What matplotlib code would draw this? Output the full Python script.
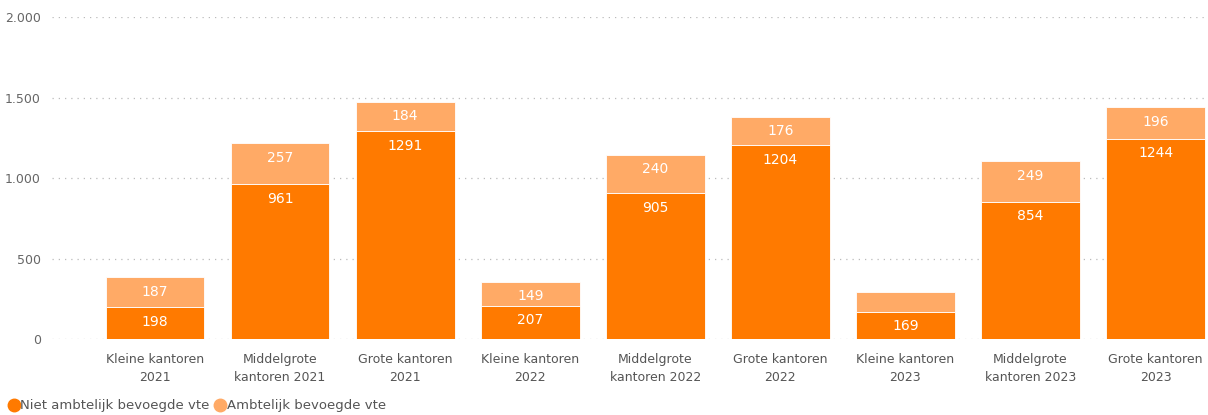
import matplotlib.pyplot as plt
import numpy as np

categories = ["Kleine kantoren\n2021", "Middelgrote\nkantoren 2021", "Grote kantoren\n2021",
              "Kleine kantoren\n2022", "Middelgrote\nkantoren 2022", "Grote kantoren\n2022",
              "Kleine kantoren\n2023", "Middelgrote\nkantoren 2023", "Grote kantoren\n2023"]
niet_ambtelijk = [198, 961, 1291, 207, 905, 1204, 169, 854, 1244]
ambtelijk = [187, 257, 184, 149, 240, 176, 124, 249, 196]
series_names = ["Niet ambtelijk bevoegde vte", "Ambtelijk bevoegde vte"]
yticks = [0, 500, 1000, 1500, 2000]

dark = "#FF7A00"
light = "#FFAA66"

fig = plt.figure(figsize=(12.08, 4.15), dpi=100)
ax = fig.add_axes([0.043, 0.183, 0.955, 0.776])

x = np.arange(len(categories))
width = 0.79
b1 = ax.bar(x, niet_ambtelijk, width, color=dark, edgecolor="white", linewidth=0.6, zorder=2)
b2 = ax.bar(x, ambtelijk, width, bottom=niet_ambtelijk, color=light, edgecolor="white", linewidth=0.6, zorder=2)

# labels sit just inside the top of each segment
for bars, vals, bottoms in [(b1, niet_ambtelijk, [0] * len(x)), (b2, ambtelijk, niet_ambtelijk)]:
    for b, v, bt in zip(bars, vals, bottoms):
        if v < 130:
            continue
        ax.annotate(str(v), (b.get_x() + b.get_width() / 2, bt + v), xytext=(0, -10.5),
                    textcoords="offset points", ha="center", va="center", color="white", fontsize=10)

ax.set_xlim(-0.824, 8.4)
ax.set_ylim(0, 2000)
ax.set_yticks(yticks)
ax.set_yticklabels([f"{t:,}".replace(",", ".") for t in yticks], color="#666666", fontsize=9)
ax.set_xticks(x)
ax.set_xticklabels(categories, color="#555555", fontsize=9, linespacing=1.55)
ax.tick_params(axis="x", length=0, pad=10)
ax.tick_params(axis="y", length=0, pad=8)
ax.grid(axis="y", linestyle=(0, (1, 4)), color="#BBBBBB", linewidth=0.9, zorder=0)
ax.set_axisbelow(True)
for s in ax.spines.values():
    s.set_visible(False)

handles = [plt.Line2D([], [], marker="o", linestyle="", color=c, markersize=9) for c in (dark, light)]
fig.legend(handles, series_names, loc="lower left", bbox_to_anchor=(-0.004, -0.022), ncol=2,
           frameon=False, handletextpad=0.0, columnspacing=0.3, fontsize=9.5,
           labelcolor="#555555", handlelength=1.0)

plt.savefig("out.png", dpi=100)
